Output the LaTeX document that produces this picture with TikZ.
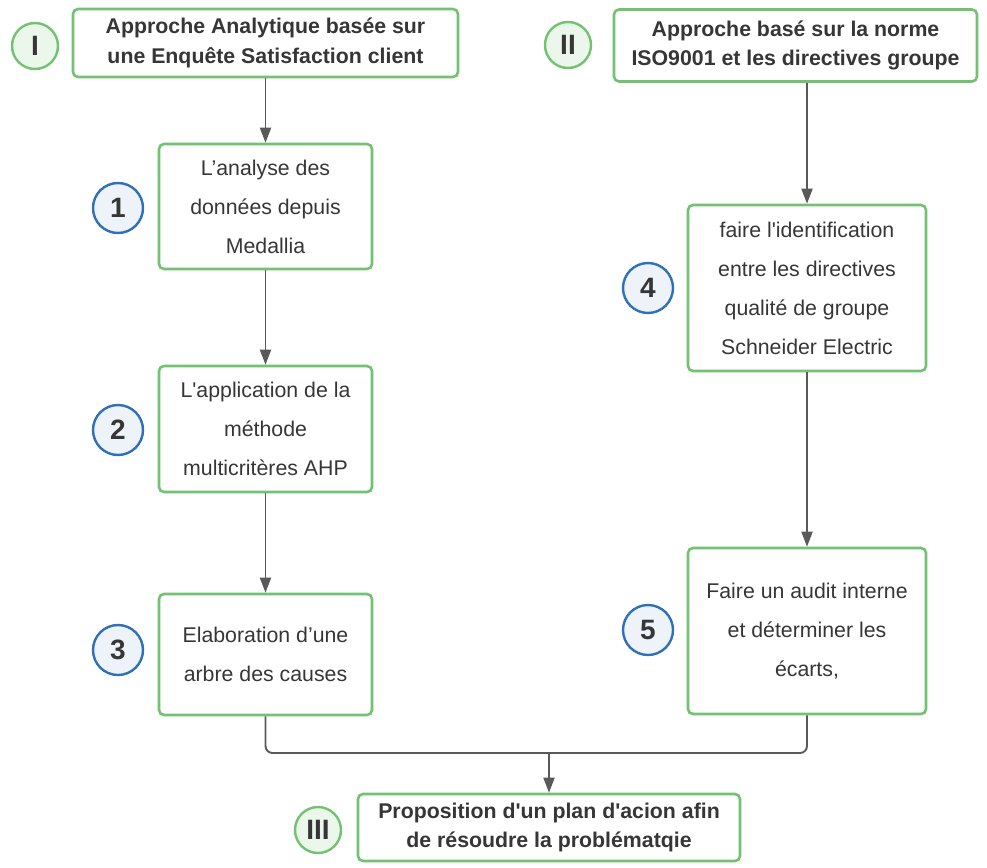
\documentclass[tikz,border=0pt]{standalone}
\usepackage{fontspec}
\setmainfont{Liberation Sans}[Ligatures=TeXOff]
\usetikzlibrary{arrows.meta,calc}
\definecolor{gbord}{HTML}{72C272}
\definecolor{gfill}{HTML}{ECF7EB}
\definecolor{bbord}{HTML}{2F70B8}
\definecolor{bfill}{HTML}{EEF3FA}
\definecolor{txt}{HTML}{363636}
\definecolor{lgray}{HTML}{595959}
\begin{document}
\begin{tikzpicture}[x=1pt,y=-1pt,
  box/.style={draw=gbord, line width=2.6pt, rounded corners=5pt, fill=white, align=center, text=txt, inner sep=0pt, font=\fontsize{21.3}{39}\selectfont},
  titlebox/.style={box, font=\bfseries\fontsize{21.3}{29.5}\selectfont},
  gcirc/.style={circle, draw=gbord, fill=gfill, line width=2.4pt, minimum size=46pt, inner sep=0pt, font=\bfseries\fontsize{28}{28}\selectfont, text=txt},
  bcirc/.style={circle, draw=bbord, fill=bfill, line width=2.4pt, minimum size=50pt, inner sep=0pt, font=\bfseries\fontsize{28}{28}\selectfont, text=txt},
  conn/.style={draw=lgray, line width=1.9pt, -{Triangle[width=11pt,length=15pt]}},
  link/.style={draw=lgray, line width=1.9pt, rounded corners=7pt}]
\useasboundingbox (0,0) rectangle (987,867);
% title boxes
\node[titlebox, minimum width=385pt, minimum height=68pt] (tI) at (265.5,43) {Approche Analytique basée sur\\une Enquête Satisfaction client};
\node[titlebox, minimum width=363pt, minimum height=72pt] (tII) at (795.5,45.5) {Approche basé sur la norme\\ISO9001 et les directives groupe};
\node[titlebox, minimum width=382pt, minimum height=67pt] (tIII) at (549,827.5) {Proposition d'un plan d'acion afin\\de résoudre la problématqie};
% step boxes
\node[box, minimum width=213pt, minimum height=125pt] (b1) at (265.5,206.5) {L’analyse des\\données depuis\\Medallia};
\node[box, minimum width=213pt, minimum height=126pt] (b2) at (265.5,429) {L'application de la\\méthode\\multicritères AHP};
\node[box, minimum width=213pt, minimum height=121pt] (b3) at (265.5,654.5) {Elaboration d’une\\arbre des causes};
\node[box, minimum width=238pt, minimum height=166pt] (b4) at (807,288) {faire l'identification\\entre les directives\\qualité de groupe\\Schneider Electric};
\node[box, minimum width=238pt, minimum height=166pt] (b5) at (807,631) {Faire un audit interne\\et déterminer les\\écarts,};
% circles
\node[gcirc] (cI) at (35,46) {I};
\node[gcirc] (cII) at (568,45) {II};
\node[gcirc] (cIII) at (318,830) {III};
\node[bcirc] (c1) at (118,208) {1};
\node[bcirc] (c2) at (118,430) {2};
\node[bcirc] (c3) at (118,650) {3};
\node[bcirc] (c4) at (648,288) {4};
\node[bcirc] (c5) at (648,630) {5};
% connectors
\draw[conn] (tI.south -| b1.north) -- (b1.north);
\draw[conn] (b1) -- (b2);
\draw[conn] (b2) -- (b3);
\draw[conn] (tII.south -| b4.north) -- (b4.north);
\draw[conn] (b4) -- (b5);
\coordinate (m) at (549,753);
\draw[link] (b3.south) -- (b3.south |- m) -- (b5.south |- m) -- (b5.south);
\draw[conn] (m) -- (tIII.north);
\end{tikzpicture}
\end{document}
